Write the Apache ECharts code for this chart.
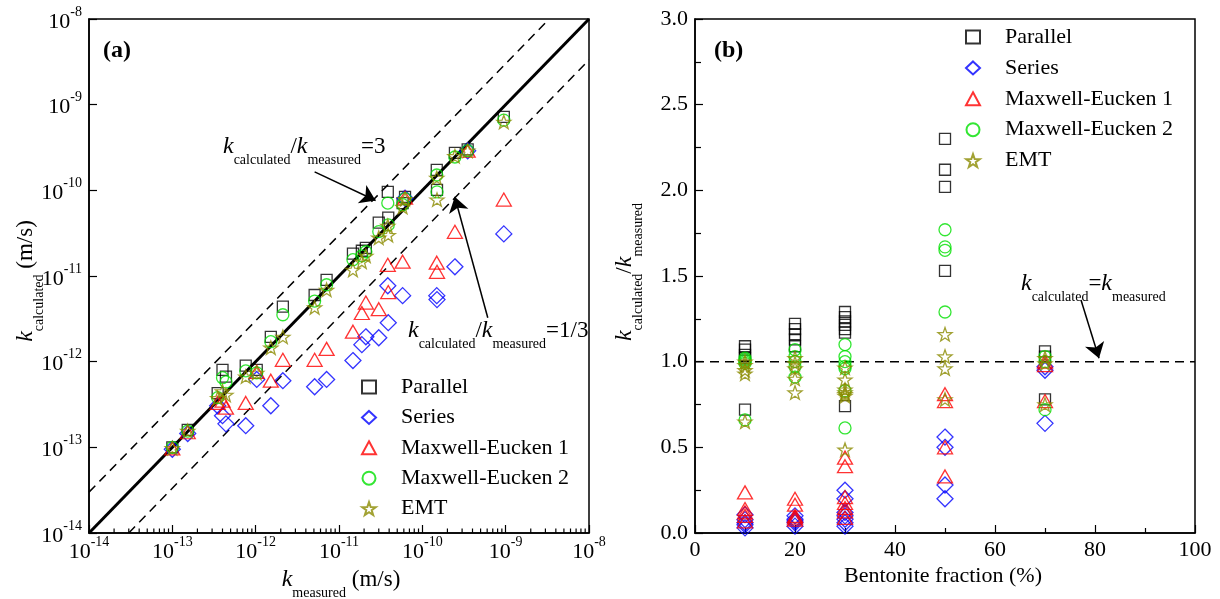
<!DOCTYPE html>
<html><head><meta charset="utf-8">
<script src="https://cdn.jsdelivr.net/npm/echarts@6/dist/echarts.min.js"></script>
<style>html,body{margin:0;padding:0;background:#fff}#c{width:1220px;height:599px}</style>
</head><body><div id="c"></div>
<script>
const FONT = 'Liberation Serif';
const seriesNames = ['Parallel', 'Series', 'Maxwell-Eucken 1', 'Maxwell-Eucken 2', 'EMT'];

// ---- Panel (a): k_calculated vs k_measured (m/s)
const kMeasured = [1.0e-13, 1.53e-13, 4.0e-13, 4.4e-13, 3.5e-13, 7.6e-13, 1.03e-12, 1.52e-12, 2.12e-12, 5.1e-12, 7.1e-12, 1.47e-11,
  1.88e-11, 2.1e-11, 3.0e-11, 3.85e-11, 3.9e-11, 6.2e-11, 5.8e-11, 1.49e-10, 1.5e-10, 2.46e-10, 3.5e-10, 9.5e-10];
const kParallel = [1.0e-13, 1.6e-13, 8.0e-13, 6.7e-13, 4.3e-13, 9.0e-13, 8.0e-13, 1.95e-12, 4.4e-12, 6.0e-12, 9.0e-12, 1.82e-11,
  1.97e-11, 2.13e-11, 4.2e-11, 9.6e-11, 4.8e-11, 8.4e-11, 7.1e-11, 1.73e-10, 1.01e-10, 2.74e-10, 3.0e-10, 7.2e-10];
const kSeries = [0.95e-13, 1.45e-13, 2.34e-13, 1.88e-13, 3.06e-13, 1.79e-13, 6.2e-13, 3.06e-13, 6.0e-13, 5.1e-13, 6.2e-13, 1.03e-12,
  1.58e-12, 1.95e-12, 1.9e-12, 7.7e-12, 2.85e-12, 8.1e-11, 5.9e-12, 5.9e-12, 5.3e-12, 1.28e-11, 2.9e-10, 3.1e-11];
const kME1 = [0.97e-13, 1.5e-13, 3.5e-13, 2.9e-13, 3.3e-13, 3.3e-13, 7.6e-13, 6.0e-13, 1.05e-12, 1.05e-12, 1.41e-12, 2.24e-12,
  3.7e-12, 4.9e-12, 4.1e-12, 1.35e-11, 6.5e-12, 8.2e-11, 1.47e-11, 1.43e-11, 1.12e-11, 3.28e-11, 2.9e-10, 7.8e-11];
const kME2 = [1.0e-13, 1.55e-13, 6.5e-13, 5.8e-13, 3.8e-13, 7.8e-13, 7.4e-13, 1.71e-12, 3.53e-12, 5.1e-12, 7.9e-12, 1.55e-11,
  1.72e-11, 1.92e-11, 3.3e-11, 7.1e-11, 3.95e-11, 8.0e-11, 6.8e-11, 1.51e-10, 9.6e-11, 2.45e-10, 2.9e-10, 6.6e-10];
const kEMT = [0.98e-13, 1.55e-13, 4.5e-13, 4.1e-13, 3.75e-13, 6.7e-13, 7.4e-13, 1.46e-12, 1.95e-12, 4.3e-12, 6.9e-12, 1.18e-11,
  1.47e-11, 1.72e-11, 2.8e-11, 3.85e-11, 3.0e-11, 7.9e-11, 6.4e-11, 1.4e-10, 7.8e-11, 2.5e-10, 2.9e-10, 6.3e-10];
const ratioLinesA = [1, 3, 1 / 3];            // k_calc / k_meas reference lines
const decadesA = [-14, -13, -12, -11, -10, -9, -8];
const minorMultipliers = [2, 3, 4, 5, 6, 7, 8, 9];

// ---- Panel (b): ratio vs bentonite fraction (%)
const fractionB = [10, 10, 10, 10, 10, 20, 20, 20, 20, 20, 30, 30, 30, 30, 30, 30, 30, 50, 50, 50, 50, 70, 70, 70];
const rParallel = [1.09, 1.07, 1.04, 1.02, 0.72, 1.22, 1.19, 1.16, 1.13, 1.09, 1.29, 1.26, 1.235, 1.215, 1.19, 1.17, 0.74, 2.30, 2.12, 2.02, 1.53, 1.06, 1.03, 0.78];
const rSeries = [0.107, 0.078, 0.048, 0.03, 0.06, 0.10, 0.08, 0.06, 0.04, 0.07, 0.25, 0.20, 0.12, 0.08, 0.06, 0.04, 0.10, 0.56, 0.50, 0.28, 0.20, 0.97, 0.95, 0.64];
const rME1 = [0.237, 0.14, 0.10, 0.068, 0.12, 0.20, 0.165, 0.10, 0.078, 0.09, 0.44, 0.39, 0.21, 0.175, 0.146, 0.126, 0.088, 0.81, 0.77, 0.50, 0.33, 1.0, 0.98, 0.77];
const rME2 = [1.02, 1.0, 0.99, 1.01, 0.66, 1.07, 1.03, 0.97, 0.91, 1.0, 1.10, 1.03, 1.0, 0.973, 0.96, 0.83, 0.613, 1.77, 1.67, 1.65, 1.29, 1.03, 1.0, 0.72];
const rEMT = [1.0, 0.93, 0.95, 0.98, 0.65, 1.02, 0.96, 0.90, 0.82, 0.99, 0.965, 0.895, 0.837, 0.82, 0.80, 0.81, 0.486, 1.16, 1.03, 0.96, 0.78, 1.02, 0.99, 0.75];
const unityLineB = [[0, 1], [100, 1]];

const colors = ['#000000', '#0000ff', '#ff0000', '#00e000', '#8b8b00'];
const STAR = 'path://M50,2 L61.8,36.2 L97.6,36.9 L69,58.6 L79.4,93 L50,72.5 L20.6,93 L31,58.6 L2.4,36.9 L38.2,36.2 Z';
const symbols = ['rect', 'diamond', 'triangle', 'circle', STAR];
const sizes = [11, 16, [15, 13], 12, 14];
const valuesA = [kParallel, kSeries, kME1, kME2, kEMT];
const valuesB = [rParallel, rSeries, rME1, rME2, rEMT];

const chart = echarts.init(document.getElementById('c'));

const powRich = {
  b: { fontSize: 22, lineHeight: 28, verticalAlign: 'bottom', fontFamily: FONT, color: '#000' },
  s: { fontSize: 14, lineHeight: 14, verticalAlign: 'top', fontFamily: FONT, color: '#000' }
};
function powLabel(v) {
  const e = Math.round(Math.log10(v));
  return '{b|10}{s|' + e + '}';
}
const axisLineStyle = { lineStyle: { color: '#000', width: 1.5 } };

const xMin = Math.pow(10, decadesA[0]), xMax = Math.pow(10, decadesA[decadesA.length - 1]);
function refLine(r) {
  const p1 = r >= 1 ? [xMin, xMin * r] : [xMin / r, xMin];
  const p2 = r >= 1 ? [xMax / r, xMax] : [xMax, xMax * r];
  return [p1, p2];
}
const minorTicksA = [];
decadesA.slice(0, -1).forEach(d => minorMultipliers.forEach(m => minorTicksA.push([m * Math.pow(10, d), xMin])));

const series = [];
ratioLinesA.forEach((r, i) => {
  const s = {
    type: 'line', xAxisIndex: 0, yAxisIndex: 0, data: refLine(r), symbol: 'none', silent: true, z: 1,
    lineStyle: i === 0 ? { color: '#000', width: 3 } : { color: '#000', width: 1.5, type: [9, 6] }
  };
  if (i === 0) {
    s.markLine = {
      silent: true, symbol: ['none', 'arrow'], symbolSize: 15, label: { show: false },
      lineStyle: { color: '#000', width: 1.5, type: 'solid' },
      data: [
        [{ coord: [5.1e-12, 1.64e-10] }, { coord: [2.75e-11, 7.6e-11] }],
        [{ coord: [6.1e-10, 3.25e-12] }, { coord: [2.45e-10, 8.4e-11] }]
      ]
    };
  }
  series.push(s);
});
series.push({
  type: 'custom', xAxisIndex: 0, yAxisIndex: 0, data: minorTicksA, silent: true, z: 5, clip: false,
  renderItem: (params, api) => {
    const p = api.coord([api.value(0), api.value(1)]);
    return { type: 'line', shape: { x1: p[0], y1: p[1], x2: p[0], y2: p[1] - 4.5 }, style: { stroke: '#000', lineWidth: 1.2 } };
  }
});
seriesNames.forEach((n, i) => {
  series.push({
    type: 'scatter', name: n, xAxisIndex: 0, yAxisIndex: 0,
    data: kMeasured.map((m, j) => [m, valuesA[i][j]]),
    symbol: symbols[i], symbolSize: sizes[i], symbolKeepAspect: true, z: 3 + i,
    itemStyle: { color: 'rgba(255,255,255,0)', borderColor: colors[i], borderWidth: 1.3 }
  });
});
series.push({
  type: 'line', xAxisIndex: 1, yAxisIndex: 1, data: unityLineB, symbol: 'none', silent: true, z: 1,
  lineStyle: { color: '#000', width: 1.5, type: [9, 6] },
  markLine: {
    silent: true, symbol: ['none', 'arrow'], symbolSize: 15, label: { show: false },
    lineStyle: { color: '#000', width: 1.5, type: 'solid' },
    data: [[{ coord: [77.2, 1.36] }, { coord: [80.8, 1.02] }]]
  }
});
seriesNames.forEach((n, i) => {
  series.push({
    type: 'scatter', name: n, xAxisIndex: 1, yAxisIndex: 1,
    data: fractionB.map((f, j) => [f, valuesB[i][j]]),
    symbol: symbols[i], symbolSize: sizes[i], symbolKeepAspect: true, z: 3 + i,
    itemStyle: { color: 'rgba(255,255,255,0)', borderColor: colors[i], borderWidth: 1.3 }
  });
});

function rt(extra) { return Object.assign({ fontFamily: FONT, fill: '#000' }, extra); }
const kRich = {
  k: rt({ fontSize: 24, fontStyle: 'italic', lineHeight: 32, verticalAlign: 'top' }),
  n: rt({ fontSize: 23, lineHeight: 32, verticalAlign: 'top' }),
  s: rt({ fontSize: 14, verticalAlign: 'bottom' })
};
function gText(x, y, text, align, rotation) {
  return { type: 'text', x: x, y: y, rotation: rotation || 0, z: 100, silent: true,
    style: { text: text, rich: kRich, align: align, verticalAlign: 'middle', fontFamily: FONT, fill: '#000' } };
}
const legendCommon = {
  orient: 'vertical', itemWidth: 14, itemHeight: 13, padding: 0, selectedMode: false, symbolKeepAspect: true,
  textStyle: { fontFamily: FONT, fontSize: 22, color: '#000', lineHeight: 22, padding: [0, 0, 0, 20] }
};

chart.setOption({
  backgroundColor: '#fff',
  animation: false,
  textStyle: { fontFamily: FONT },
  grid: [
    { left: 89, top: 19, width: 500, height: 514, show: true, borderColor: '#000', borderWidth: 1.5, backgroundColor: 'transparent' },
    { left: 695, top: 19, width: 500, height: 514, show: true, borderColor: '#000', borderWidth: 1.5, backgroundColor: 'transparent' }
  ],
  xAxis: [
    { type: 'log', logBase: 10, gridIndex: 0, min: xMin, max: xMax, interval: 1, splitNumber: 6,
      axisLine: axisLineStyle, axisTick: { inside: true, length: 8, lineStyle: { width: 1.2 } }, splitLine: { show: false },
      axisLabel: { formatter: powLabel, rich: powRich, margin: 2, showMinLabel: true, showMaxLabel: true } },
    { type: 'value', gridIndex: 1, min: 0, max: 100, interval: 20,
      axisLine: axisLineStyle, axisTick: { inside: true, length: 8, lineStyle: { width: 1.2 } },
      minorTick: { show: true, splitNumber: 2, length: 5, lineStyle: { color: '#000', width: 1.2 } }, splitLine: { show: false },
      axisLabel: { fontSize: 22, color: '#000', fontFamily: FONT, margin: 6 } }
  ],
  yAxis: [
    { type: 'log', logBase: 10, gridIndex: 0, min: xMin, max: xMax, interval: 1, splitNumber: 6,
      axisLine: axisLineStyle, axisTick: { inside: true, length: 8, lineStyle: { width: 1.2 } }, splitLine: { show: false },
      axisLabel: { formatter: powLabel, rich: powRich, margin: 7, showMinLabel: true, showMaxLabel: true } },
    { type: 'value', gridIndex: 1, min: 0, max: 3, interval: 0.5,
      axisLine: axisLineStyle, axisTick: { inside: true, length: 8, lineStyle: { width: 1.2 } },
      minorTick: { show: true, splitNumber: 2, length: 6, lineStyle: { color: '#000', width: 1.2 } }, splitLine: { show: false },
      axisLabel: { fontSize: 22, color: '#000', fontFamily: FONT, margin: 7, formatter: v => v.toFixed(1) } }
  ],
  legend: [
    Object.assign({ data: seriesNames, left: 361, top: 376, itemGap: 8.4 }, legendCommon),
    Object.assign({ data: seriesNames, left: 965, top: 26, itemGap: 8.9 }, legendCommon)
  ],
  graphic: [
    { type: 'text', x: 103, y: 51, z: 100, silent: true, style: { text: '(a)', fontFamily: FONT, fontSize: 24, fontWeight: 'bold', fill: '#000', verticalAlign: 'middle' } },
    { type: 'text', x: 714, y: 51, z: 100, silent: true, style: { text: '(b)', fontFamily: FONT, fontSize: 24, fontWeight: 'bold', fill: '#000', verticalAlign: 'middle' } },
    gText(341, 584, '{k|k}{s|measured}{n| (m/s)}', 'center'),
    gText(30, 281, '{k|k}{s|calculated}{n| (m/s)}', 'center', Math.PI / 2),
    gText(629, 272, '{k|k}{s|calculated}{n|/}{k|k}{s|measured}', 'center', Math.PI / 2),
    gText(223, 151, '{k|k}{s|calculated}{n|/}{k|k}{s|measured}{n|=3}', 'left'),
    gText(408, 335, '{k|k}{s|calculated}{n|/}{k|k}{s|measured}{n|=1/3}', 'left'),
    gText(1021, 288, '{k|k}{s|calculated}{n|=}{k|k}{s|measured}', 'left'),
    { type: 'text', x: 943, y: 576, z: 100, silent: true, style: { text: 'Bentonite fraction (%)', fontFamily: FONT, fontSize: 22, fill: '#000', align: 'center', verticalAlign: 'middle' } }
  ],
  series: series
});
</script></body></html>
